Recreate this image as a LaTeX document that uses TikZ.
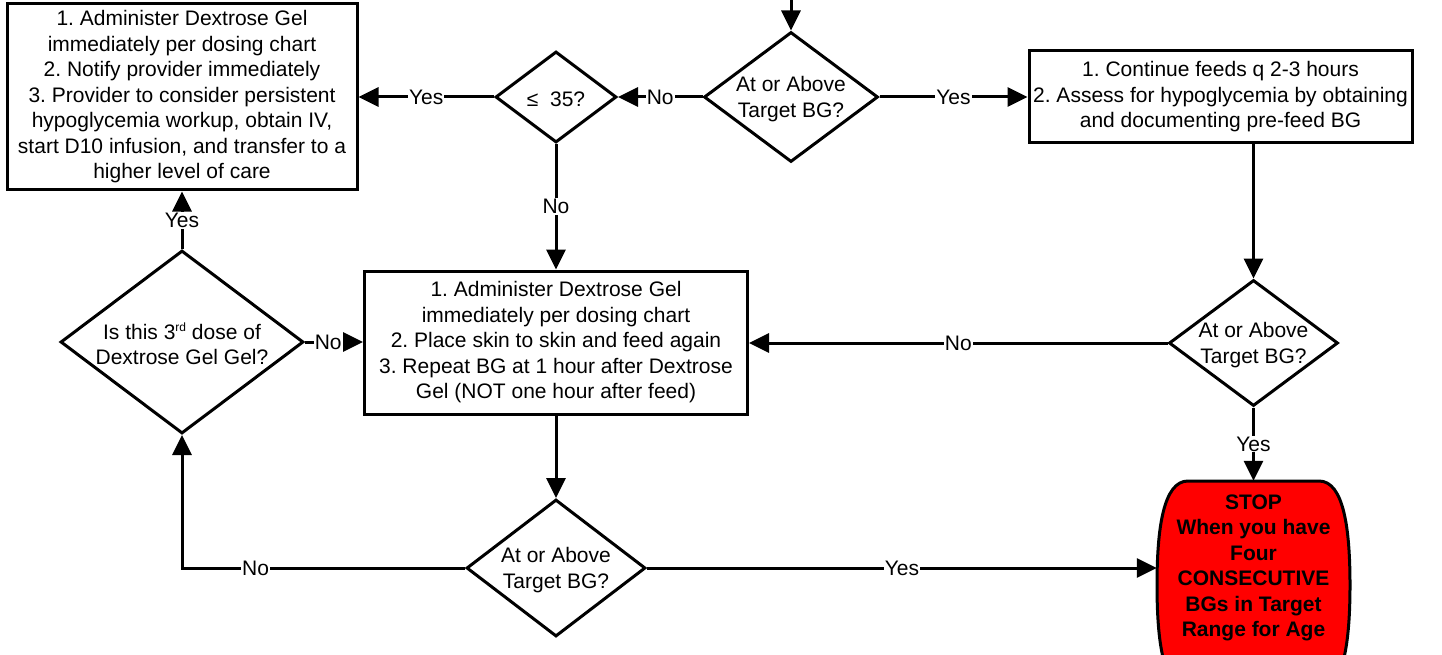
\documentclass[tikz,border=0pt]{standalone}
\usepackage{fontspec}
\setmainfont{Liberation Sans}
\usetikzlibrary{shapes.geometric,arrows.meta}
\begin{document}
\frenchspacing
\begin{tikzpicture}[x=1pt,y=-1pt,
  every node/.style={font=\fontsize{21}{25.5}\selectfont},
  ln/.style={line width=3pt},
  arr/.style={ln,-{Triangle[length=20pt,width=19pt]}},
  box/.style={draw,ln,rectangle,align=center,inner sep=2pt},
  dia/.style={draw,ln,diamond,inner sep=0pt},
  dtext/.style={label={[align=center,yshift=-2pt]center:#1}},
  lab/.style={fill=white,inner sep=1pt},
]
\useasboundingbox (0,0) rectangle (1442,655);

% STOP terminator shape
\filldraw[ln,fill=red,draw=black] (1188,481) -- (1319,481)
  .. controls (1344,481) and (1350,530) .. (1350,585)
  .. controls (1350,640) and (1344,690) .. (1319,690) -- (1188,690)
  .. controls (1163,690) and (1157,640) .. (1157,585)
  .. controls (1157,530) and (1163,481) .. (1188,481) -- cycle;

\coordinate (top) at (791,-4);

\node[box,minimum width=350,minimum height=186] (b1) at (182,97)
  {1. Administer Dextrose Gel\\immediately per dosing chart\\2. Notify provider immediately\\3. Provider to consider persistent\\hypoglycemia workup, obtain IV,\\start D10 infusion, and transfer to a\\higher level of care};
\node[box,minimum width=383,minimum height=92] (b2) at (1220.5,97)
  {1. Continue feeds q 2-3 hours\\2. Assess for hypoglycemia by obtaining\\and documenting pre-feed BG};
\node[box,minimum width=383,minimum height=143] (b3) at (556,342.5)
  {1. Administer Dextrose Gel\\immediately per dosing chart\\2. Place skin to skin and feed again\\3. Repeat BG at 1 hour after Dextrose\\Gel (NOT one hour after feed)};

\node[dia,minimum width=174,minimum height=130,
  dtext={At or Above\\Target BG?}] (d1) at (791,97) {};
\node[dia,minimum width=121,minimum height=91,
  dtext={≤\ \ 35?}] (d2) at (556,97) {};
\node[dia,minimum width=243,minimum height=183,
  dtext={Is this 3\raisebox{0.7ex}{\fontsize{12}{12}\selectfont rd} dose of\\Dextrose Gel Gel?}] (d3) at (182,342) {};
\node[dia,minimum width=169,minimum height=126,
  dtext={At or Above\\Target BG?}] (d4) at (1253.5,343) {};
\node[dia,minimum width=179,minimum height=137,
  dtext={At or Above\\Target BG?}] (d5) at (556,568) {};

\node[align=center,inner sep=0pt,minimum width=193,minimum height=174,
  font=\bfseries\fontsize{21}{25.5}\selectfont] (stop) at (1253.5,568)
  {STOP\\When you have\\Four\\CONSECUTIVE\\BGs in Target\\Range for Age};

\draw[arr] (top) -- (d1.north);
\draw[arr] (d1.west) -- node[lab]{No} (d2.east);
\draw[arr] (d1.east) -- node[lab]{Yes} (b2.west);
\draw[arr] (d2.west) -- node[lab]{Yes} (b1.east);
\draw[arr] (d2.south) -- node[lab]{No} (b3.north);
\draw[arr] (d3.north) -- node[lab]{Yes} (b1.south);
\draw[arr] (d3.east) -- node[lab,pos=0.4]{No} (b3.west |- d3.east);
\draw[arr] (d4.west) -- node[lab]{No} (b3.east |- d4.west);
\draw[arr] (b2.south -| d4.north) -- (d4.north);
\draw[arr] (d4.south) -- node[lab]{Yes} (stop.north);
\draw[arr] (b3.south) -- (d5.north);
\draw[arr] (d5.east) -- node[lab]{Yes} (stop.west);
\draw[arr] (d5.west) -- node[lab,pos=0.74]{No} (d3.south |- d5.west) -- (d3.south);
\end{tikzpicture}
\end{document}
